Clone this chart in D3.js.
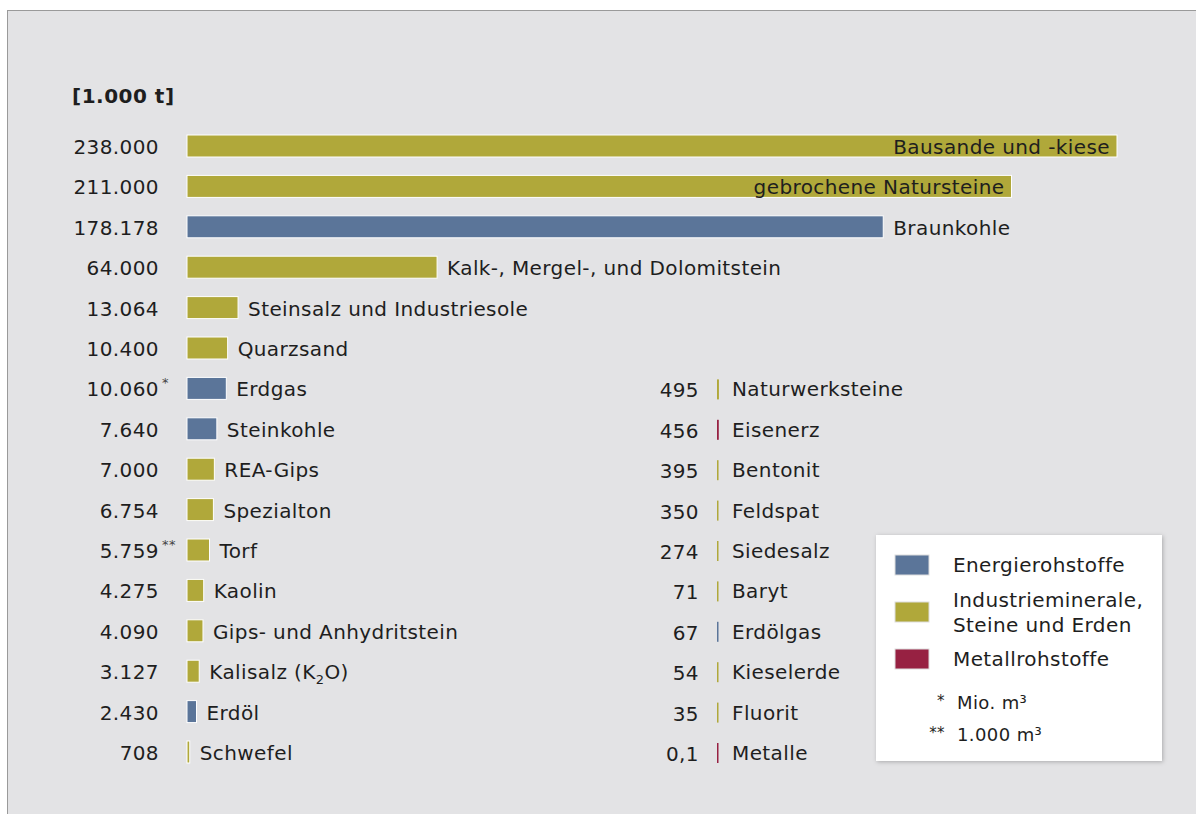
<!DOCTYPE html>
<html>
<head>
<meta charset="utf-8">
<script src="https://cdn.jsdelivr.net/npm/d3@7"></script>
<style>
  body { margin: 0; background: #fff; }
  text { font-family: "DejaVu Sans", Verdana, sans-serif; fill: #1e1e1e; letter-spacing: 0.4px; }
</style>
</head>
<body>
<div id="chart"></div>
<script>
// left column (to scale)
var leftNames = ['Bausande und -kiese', 'gebrochene Natursteine', 'Braunkohle',
  'Kalk-, Mergel-, und Dolomitstein', 'Steinsalz und Industriesole', 'Quarzsand',
  'Erdgas', 'Steinkohle', 'REA-Gips', 'Spezialton', 'Torf', 'Kaolin',
  'Gips- und Anhydritstein', 'Kalisalz (K2O)', 'Erdöl', 'Schwefel'];
var leftValues = [238000, 211000, 178178, 64000, 13064, 10400, 10060, 7640,
  7000, 6754, 5759, 4275, 4090, 3127, 2430, 708];
var leftGroups = ['I', 'I', 'E', 'I', 'I', 'I', 'E', 'E', 'I', 'I', 'I', 'I', 'I', 'I', 'E', 'I'];
var leftMarks = ['', '', '', '', '', '', '*', '', '', '', '**', '', '', '', '', ''];

// right column (small values)
var rightNames = ['Naturwerksteine', 'Eisenerz', 'Bentonit', 'Feldspat', 'Siedesalz',
  'Baryt', 'Erdölgas', 'Kieselerde', 'Fluorit', 'Metalle'];
var rightValues = [495, 456, 395, 350, 274, 71, 67, 54, 35, 0.1];
var rightGroups = ['I', 'M', 'I', 'I', 'I', 'I', 'E', 'I', 'I', 'M'];

var groupKeys = ['E', 'I', 'M'];
var groupNames = ['Energierohstoffe', 'Industrieminerale,|Steine und Erden', 'Metallrohstoffe'];
var groupColors = ['#5b7599', '#b0a83a', '#972142'];

var width = 1196, height = 814;
var fs = '20px';
var color = d3.scaleOrdinal().domain(groupKeys).range(groupColors);
var de = d3.formatLocale({decimal: ',', thousands: '.', grouping: [3], currency: ['', ' €']});
var fmt = de.format(',');

var svg = d3.select('#chart').append('svg')
  .attr('width', width)
  .attr('height', height);

// panel
svg.append('rect')
  .attr('x', 7.5).attr('y', 10.5)
  .attr('width', width).attr('height', height)
  .style('fill', '#e3e3e5')
  .style('stroke', '#9a9a9a');

var x = d3.scaleLinear().domain([0, 238000]).range([187, 1117]);
var y = d3.scalePoint().domain(d3.range(16)).range([146, 752]);
var barH = 22;

svg.append('text')
  .attr('x', 72).attr('y', 96).attr('dy', '0.35em')
  .style('font-size', fs).style('font-weight', 'bold')
  .style('letter-spacing', '0.5px')
  .text('[1.000 t]');

var left = svg.selectAll('.left')
  .data(leftValues)
  .enter().append('g')
  .attr('class', 'left');

left.append('rect')
  .attr('x', x(0))
  .attr('y', function(d, i) { return y(i) - barH / 2; })
  .attr('width', function(d) { return Math.max(x(d) - x(0), 1.5); })
  .attr('height', barH)
  .style('fill', function(d, i) { return color(leftGroups[i]); })
  .style('stroke', '#fff')
  .style('stroke-width', 1);

left.append('text')
  .attr('x', 159)
  .attr('y', function(d, i) { return y(i) + 1; })
  .attr('dy', '0.35em')
  .attr('text-anchor', 'end')
  .style('font-size', fs)
  .text(function(d) { return fmt(d); });

left.append('text')
  .attr('x', 162)
  .attr('y', function(d, i) { return y(i) - 1; })
  .style('font-size', '13px')
  .style('fill', '#444')
  .text(function(d, i) { return leftMarks[i]; });

left.append('text')
  .attr('x', function(d) { return d > 200000 ? x(d) - 7 : x(d) + 10; })
  .attr('y', function(d, i) { return y(i) + 1; })
  .attr('dy', '0.35em')
  .attr('text-anchor', function(d) { return d > 200000 ? 'end' : 'start'; })
  .style('font-size', fs)
  .each(function(d, i) {
    var t = d3.select(this);
    var name = leftNames[i];
    if (name === 'Kalisalz (K2O)') {
      t.append('tspan').text('Kalisalz (K');
      t.append('tspan').attr('dy', '0.35em').style('font-size', '13px').text('2');
      t.append('tspan').attr('dy', '-0.25em').text('O)');
    } else {
      t.text(name);
    }
  });

// right column
var x2 = d3.scaleLinear().domain([0, 238000]).range([717, 1647]);

var right = svg.selectAll('.right')
  .data(rightValues)
  .enter().append('g')
  .attr('class', 'right');

right.append('rect')
  .attr('x', x2(0))
  .attr('y', function(d, i) { return y(i + 6) - barH / 2 + 2; })
  .attr('width', function(d) { return Math.max(x2(d) - x2(0), 1.5); })
  .attr('height', barH - 2)
  .style('fill', function(d, i) { return color(rightGroups[i]); });

right.append('text')
  .attr('x', 699)
  .attr('y', function(d, i) { return y(i + 6) + 2; })
  .attr('dy', '0.35em')
  .attr('text-anchor', 'end')
  .style('font-size', fs)
  .text(function(d) { return fmt(d); });

right.append('text')
  .attr('x', 732)
  .attr('y', function(d, i) { return y(i + 6) + 1; })
  .attr('dy', '0.35em')
  .style('font-size', fs)
  .text(function(d, i) { return rightNames[i]; });

// legend
var defs = svg.append('defs');
var f = defs.append('filter').attr('id', 'shadow')
  .attr('x', '-10%').attr('y', '-10%').attr('width', '120%').attr('height', '120%');
f.append('feDropShadow').attr('dx', 1).attr('dy', 1).attr('stdDeviation', 2)
  .attr('flood-color', '#000').attr('flood-opacity', 0.25);

var legend = svg.append('g').attr('transform', 'translate(876,535)');
legend.append('rect')
  .attr('width', 286).attr('height', 226)
  .style('fill', '#fff')
  .attr('filter', 'url(#shadow)');

var legendY = [30, 77, 124];
var item = legend.selectAll('.legend')
  .data(groupKeys)
  .enter().append('g')
  .attr('class', 'legend')
  .attr('transform', function(d, i) { return 'translate(0,' + legendY[i] + ')'; });

item.append('rect')
  .attr('x', 19).attr('y', -10)
  .attr('width', 34).attr('height', 20)
  .style('fill', function(d) { return color(d); })
  .style('stroke', '#ddd');

item.append('text')
  .attr('x', 77)
  .style('font-size', fs)
  .each(function(d, i) {
    var lines = groupNames[i].split('|');
    var t = d3.select(this);
    lines.forEach(function(l, j) {
      t.append('tspan')
        .attr('x', 77)
        .attr('y', (j - (lines.length - 1) / 2) * 25)
        .attr('dy', '0.35em')
        .text(l);
    });
  });

var notes = [['*', 'Mio. m³'], ['**', '1.000 m³']];
var note = legend.selectAll('.note')
  .data(notes)
  .enter().append('g')
  .attr('transform', function(d, i) { return 'translate(0,' + (168 + i * 32) + ')'; });

note.append('text')
  .attr('x', 69).attr('y', 3)
  .attr('text-anchor', 'end')
  .style('font-size', '15px')
  .text(function(d) { return d[0]; });

note.append('text')
  .attr('x', 81).attr('dy', '0.35em')
  .style('font-size', '18px')
  .text(function(d) { return d[1]; });
</script>
</body>
</html>
